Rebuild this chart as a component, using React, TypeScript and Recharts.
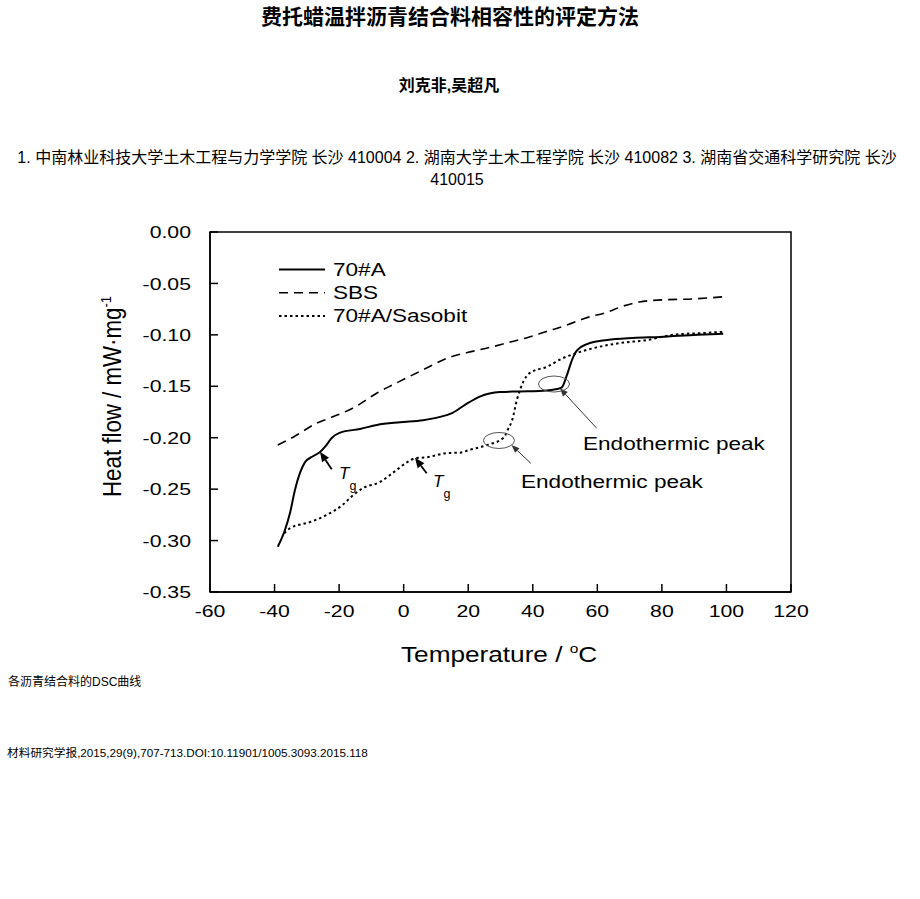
import React from 'react';
import {
  LineChart,
  Line,
  XAxis,
  YAxis,
  ReferenceArea,
  ReferenceDot,
  ReferenceLine,
  Customized,
} from 'recharts';

const FONT = "'Liberation Sans', Arial, Helvetica, sans-serif";
const CJK_FONT = "'Liberation Sans', Arial, 'Noto Sans CJK SC', sans-serif";

// ---- data (temperature °C, heat flow mW/mg) ----
const temp70A = [-39, -36.8, -35.2, -33.7, -32.1, -30.6, -28.1, -25.9, -24.4, -22.2, -19.7, -13.5, -8.3, -1.1, 6, 11, 15, 19, 23.6, 29.8, 36, 44.4, 47.5, 49, 50.6, 52.2, 53.7, 56.8, 63, 71, 79.4, 91, 99];
const heat70A = [-0.306, -0.29, -0.273, -0.251, -0.234, -0.224, -0.218, -0.214, -0.209, -0.2, -0.195, -0.1915, -0.1876, -0.185, -0.183, -0.18, -0.176, -0.168, -0.16, -0.1556, -0.155, -0.154, -0.1526, -0.151, -0.139, -0.124, -0.115, -0.109, -0.105, -0.103, -0.102, -0.1, -0.099];

const tempSBS = [-39, -34, -27, -23, -15, -8, -3, 6, 14, 20, 27, 33, 38, 44, 51, 56, 63, 68, 73, 80, 90, 99];
const heatSBS = [-0.207, -0.199, -0.186, -0.181, -0.17, -0.156, -0.148, -0.134, -0.122, -0.117, -0.112, -0.107, -0.103, -0.097, -0.09, -0.084, -0.078, -0.072, -0.068, -0.066, -0.065, -0.063];

const tempSas = [-37, -35.2, -29, -23.8, -18.8, -15.7, -12.6, -7.3, -3.3, 1, 3.5, 7.2, 13.4, 17.5, 20.2, 26, 31, 32.3, 33.6, 35.1, 37, 39.1, 44.4, 49.4, 53.7, 58.7, 67, 75.4, 83.4, 94, 99];
const heatSas = [-0.293, -0.288, -0.282, -0.275, -0.265, -0.256, -0.249, -0.243, -0.234, -0.224, -0.22, -0.219, -0.215, -0.2145, -0.212, -0.207, -0.2, -0.192, -0.183, -0.163, -0.146, -0.137, -0.131, -0.1225, -0.1176, -0.113, -0.108, -0.105, -0.1, -0.098, -0.097];

const seriesNames = ['70#A', 'SBS', '70#A/Sasobit'];
const xTicks = [-60, -40, -20, 0, 20, 40, 60, 80, 100, 120];
const yTicks = [0, -0.05, -0.1, -0.15, -0.2, -0.25, -0.3, -0.35];

// annotation anchors (data coordinates)
const tgArrowTails = [{ x: -22.3, y: -0.2307 }, { x: 7.13, y: -0.2346 }];
const tgArrowHeads = [{ x: -25.92, y: -0.2136 }, { x: 3.51, y: -0.2194 }];
const tgLabelPoints = [{ x: -20.03, y: -0.2401 }, { x: 9.09, y: -0.2479 }];
const peakCircles = [{ x: 29.53, y: -0.2027 }, { x: 46.57, y: -0.1478 }];
const peakArrowTails = [{ x: 39.39, y: -0.2249 }, { x: 59.8, y: -0.1908 }];
const peakArrowHeads = [{ x: 33.41, y: -0.2071 }, { x: 48.43, y: -0.152 }];
const peakLabelPoints = [{ x: 36.35, y: -0.2489 }, { x: 55.56, y: -0.2124 }];

const zip = (ts: number[], hs: number[]) => ts.map((t, i) => ({ t, h: hs[i] }));
const data70A = zip(temp70A, heat70A);
const dataSBS = zip(tempSBS, heatSBS);
const dataSas = zip(tempSas, heatSas);

const seriesStyles = [
  { dash: undefined as string | undefined, width: 2 },
  { dash: '9 6', width: 1.6 },
  { dash: '2.5 3', width: 2 },
];

const XTick = (props: any) => {
  const { x, y, payload } = props;
  return (
    <text
      transform={`translate(${x},${y}) scale(1.25,1)`}
      textAnchor="middle"
      dy="0.72em"
      fontSize={17}
      fontFamily={FONT}
      fill="#000"
    >
      {String(payload.value)}
    </text>
  );
};

const YTick = (props: any) => {
  const { x, y, payload } = props;
  return (
    <text
      transform={`translate(${x},${y}) scale(1.25,1)`}
      textAnchor="end"
      dy="0.36em"
      fontSize={17}
      fontFamily={FONT}
      fill="#000"
    >
      {Number(payload.value).toFixed(2)}
    </text>
  );
};

const arrowShape = (w: number, len: number, half: number, color: string) => (p: any) => {
  const { x1, y1, x2, y2 } = p;
  const dx = x2 - x1;
  const dy = y2 - y1;
  const L = Math.sqrt(dx * dx + dy * dy) || 1;
  const ux = dx / L;
  const uy = dy / L;
  const bx = x2 - ux * len;
  const by = y2 - uy * len;
  const px = -uy * half;
  const py = ux * half;
  return (
    <g>
      <line x1={x1} y1={y1} x2={bx} y2={by} stroke={color} strokeWidth={w} />
      <polygon points={`${x2},${y2} ${bx + px},${by + py} ${bx - px},${by - py}`} fill={color} />
    </g>
  );
};

const Overlay = () => (
  <g fontFamily={FONT} fill="#000">
    {seriesNames.map((name, i) => (
      <g key={name}>
        <line
          x1={279}
          x2={325}
          y1={269.5 + i * 23.3}
          y2={269.5 + i * 23.3}
          stroke="#000"
          strokeWidth={seriesStyles[i].width}
          strokeDasharray={seriesStyles[i].dash}
        />
        <text transform={`translate(333,${275.5 + i * 23.3}) scale(1.22,1)`} fontSize={18.5}>
          {name}
        </text>
      </g>
    ))}
    <text transform="translate(401,662) scale(1.19,1)" fontSize={22}>
      Temperature /{' '}
      <tspan fontSize={13} dy={-9}>
        o
      </tspan>
      <tspan fontSize={22} dy={9}>
        C
      </tspan>
    </text>
    <text transform="translate(121,497) scale(1.15,1) rotate(-90)" fontSize={22.3}>
      Heat flow / mW·mg
      <tspan fontSize={13} dy={-9}>
        -1
      </tspan>
    </text>
  </g>
);

export default function App() {
  return (
    <div
      style={{
        position: 'absolute',
        left: 0,
        top: 0,
        width: 920,
        height: 899,
        background: '#fff',
        fontFamily: CJK_FONT,
        color: '#000',
      }}
    >
      <div
        style={{
          position: 'absolute',
          left: 0,
          top: 5,
          width: 900,
          textAlign: 'center',
          fontSize: 21,
          fontWeight: 'bold',
          lineHeight: '24px',
          whiteSpace: 'nowrap',
        }}
      >
        费托蜡温拌沥青结合料相容性的评定方法
      </div>
      <div
        style={{
          position: 'absolute',
          left: 0,
          top: 76,
          width: 898,
          textAlign: 'center',
          fontSize: 16,
          fontWeight: 'bold',
          lineHeight: '20px',
        }}
      >
        刘克非,吴超凡
      </div>
      <div
        style={{
          position: 'absolute',
          left: 0,
          top: 147,
          width: 914,
          textAlign: 'center',
          fontSize: 16,
          lineHeight: '22px',
          whiteSpace: 'nowrap',
        }}
      >
        1. 中南林业科技大学土木工程与力学学院 长沙 410004 2. 湖南大学土木工程学院 长沙 410082 3. 湖南省交通科学研究院 长沙
        <br />
        410015
      </div>

      <div style={{ position: 'absolute', left: 0, top: 0 }}>
        <LineChart width={920} height={700} margin={{ top: 232, right: 129, bottom: 68, left: 150 }}>
          <XAxis
            type="number"
            dataKey="t"
            domain={[-60, 120]}
            ticks={xTicks}
            allowDataOverflow
            height={40}
            tickSize={-8}
            tickMargin={21}
            tick={XTick}
            axisLine={{ stroke: '#000', strokeWidth: 1.5 }}
            tickLine={{ stroke: '#000', strokeWidth: 1.5 }}
          />
          <YAxis
            type="number"
            dataKey="h"
            domain={[-0.35, 0]}
            ticks={yTicks}
            allowDataOverflow
            width={60}
            tickSize={-8}
            tickMargin={27}
            tick={YTick}
            axisLine={{ stroke: '#000', strokeWidth: 1.5 }}
            tickLine={{ stroke: '#000', strokeWidth: 1.5 }}
          />
          <ReferenceArea
            x1={-60}
            x2={120}
            y1={-0.35}
            y2={0}
            fill="none"
            stroke="#000"
            strokeWidth={1.5}
            ifOverflow="visible"
          />
          <Line
            data={dataSBS}
            dataKey="h"
            name={seriesNames[1]}
            type="monotone"
            stroke="#000"
            strokeWidth={seriesStyles[1].width}
            strokeDasharray={seriesStyles[1].dash}
            dot={false}
            activeDot={false}
            isAnimationActive={false}
          />
          <Line
            data={dataSas}
            dataKey="h"
            name={seriesNames[2]}
            type="monotone"
            stroke="#000"
            strokeWidth={seriesStyles[2].width}
            strokeDasharray={seriesStyles[2].dash}
            dot={false}
            activeDot={false}
            isAnimationActive={false}
          />
          <Line
            data={data70A}
            dataKey="h"
            name={seriesNames[0]}
            type="monotone"
            stroke="#000"
            strokeWidth={seriesStyles[0].width}
            dot={false}
            activeDot={false}
            isAnimationActive={false}
          />

          {peakCircles.map((c, i) => (
            <ReferenceDot
              key={`pc${i}`}
              x={c.x}
              y={c.y}
              r={8}
              ifOverflow="visible"
              shape={(p: any) => (
                <ellipse cx={p.cx} cy={p.cy} rx={15.5} ry={8} fill="none" stroke="#555" strokeWidth={1} />
              )}
            />
          ))}
          {tgArrowTails.map((t, i) => (
            <ReferenceLine
              key={`ta${i}`}
              segment={[t, tgArrowHeads[i]]}
              ifOverflow="visible"
              shape={arrowShape(1.8, 10, 4.2, '#000')}
            />
          ))}
          {peakArrowTails.map((t, i) => (
            <ReferenceLine
              key={`pa${i}`}
              segment={[t, peakArrowHeads[i]]}
              ifOverflow="visible"
              shape={arrowShape(1, 8, 3.2, '#333')}
            />
          ))}
          {tgLabelPoints.map((pt, i) => (
            <ReferenceDot
              key={`tl${i}`}
              x={pt.x}
              y={pt.y}
              r={1}
              ifOverflow="visible"
              shape={(p: any) => (
                <text x={p.cx} y={p.cy} fontSize={17} fontStyle="italic" fontFamily={FONT} fill="#000">
                  T
                  <tspan fontStyle="normal" fontSize={12.5} dy={11}>
                    g
                  </tspan>
                </text>
              )}
            />
          ))}
          {peakLabelPoints.map((pt, i) => (
            <ReferenceDot
              key={`pl${i}`}
              x={pt.x}
              y={pt.y}
              r={1}
              ifOverflow="visible"
              shape={(p: any) => (
                <text
                  transform={`translate(${p.cx},${p.cy}) scale(1.22,1)`}
                  fontSize={18.5}
                  fontFamily={FONT}
                  fill="#000"
                >
                  Endothermic peak
                </text>
              )}
            />
          ))}
          <Customized component={Overlay} />
        </LineChart>
      </div>

      <div
        style={{
          position: 'absolute',
          left: 8,
          top: 674,
          fontSize: 12,
          lineHeight: '16px',
          whiteSpace: 'nowrap',
        }}
      >
        各沥青结合料的DSC曲线
      </div>
      <div
        style={{
          position: 'absolute',
          left: 7,
          top: 745,
          fontSize: 11.7,
          lineHeight: '16px',
          whiteSpace: 'nowrap',
        }}
      >
        材料研究学报,2015,29(9),707-713.DOI:10.11901/1005.3093.2015.118
      </div>
    </div>
  );
}
